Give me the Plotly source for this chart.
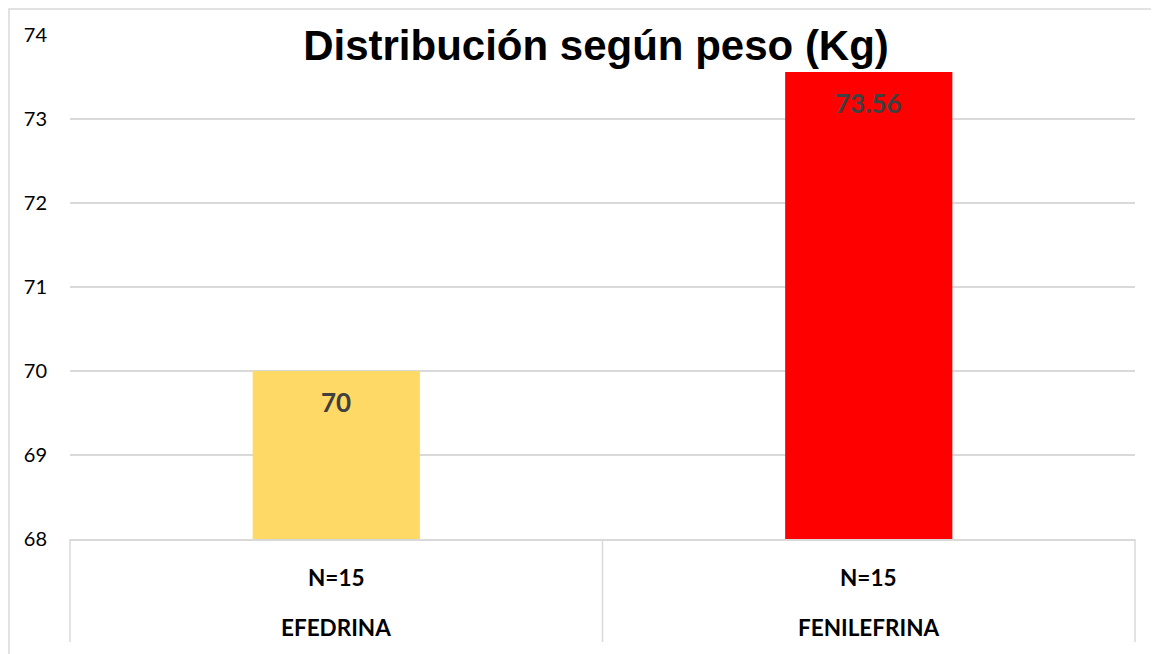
import plotly.graph_objects as go

categories = ["EFEDRINA", "FENILEFRINA"]
group_sizes = ["N=15", "N=15"]
peso_medio = [70, 73.56]
value_labels = ["70", "73.56"]
bar_colors = ["#FFD966", "#FF0000"]
y_ticks = [68, 69, 70, 71, 72, 73, 74]
y_floor = 68

W, H = 1159, 654
M_L, M_R, M_T, M_B = 62, 32, 27, 123
plot_w = W - M_L - M_R
plot_h = H - M_T - M_B

fig = go.Figure()

fig.add_trace(
    go.Bar(
        x=categories,
        y=[v - y_floor for v in peso_medio],
        base=y_floor,
        width=0.314,
        marker={"color": bar_colors, "line": {"width": 0}},
        hoverinfo="skip",
    )
)

# data labels near the top of each bar
for cat, val, txt in zip(categories, peso_medio, value_labels):
    fig.add_annotation(
        x=cat, y=val, xref="x", yref="y",
        text=f"<b>{txt}</b>", showarrow=False,
        yanchor="middle", yshift=-31,
        font={"family": "Lato, Open Sans, sans-serif", "size": 26, "color": "#404040"},
    )

# two-level category labels
label_font = {"family": "Lato, Open Sans, sans-serif", "size": 22.5, "color": "#000000"}
for cat, n in zip(categories, group_sizes):
    fig.add_annotation(
        x=cat, y=-38 / plot_h, xref="x", yref="paper",
        text=f"<b>{n}</b>", showarrow=False, yanchor="middle", font=label_font,
    )
    fig.add_annotation(
        x=cat, y=-88 / plot_h, xref="x", yref="paper",
        text=f"<b>{cat}</b>", showarrow=False, yanchor="middle", font=label_font,
    )

# table lines below the axis
line_style = {"color": "#D9D9D9", "width": 1.5}
for xp in [0, 0.5, 1]:
    fig.add_shape(
        type="line", xref="paper", yref="paper",
        x0=xp, x1=xp, y0=0, y1=-103 / plot_h, line=line_style,
    )

# outer chart border (left and top edges visible)
fig.add_shape(
    type="rect", xref="paper", yref="paper",
    x0=(1 - M_L) / plot_w, x1=(W - M_L + 10) / plot_w,
    y0=-(M_B + 10) / plot_h, y1=(plot_h + M_T - 1) / plot_h,
    line={"color": "#D9D9D9", "width": 1.5}, layer="below",
)

fig.update_layout(
    width=W,
    height=H,
    plot_bgcolor="white",
    paper_bgcolor="white",
    showlegend=False,
    margin={"l": M_L, "r": M_R, "t": M_T, "b": M_B},
    title={
        "text": "<b>Distribución según peso (Kg)</b>",
        "x": 588 / W,
        "xanchor": "center",
        "y": 1 - 37 / H,
        "yanchor": "middle",
        "yref": "container",
        "font": {"family": "Liberation Sans, Arial, sans-serif", "size": 42, "color": "#000000"},
    },
)

fig.update_xaxes(
    showticklabels=False,
    showgrid=False,
    showline=True,
    linecolor="#D9D9D9",
    linewidth=1.5,
    range=[-0.5, 1.5],
)

fig.update_yaxes(
    range=[68, 74],
    tickmode="array",
    tickvals=y_ticks,
    showgrid=True,
    gridcolor="#D9D9D9",
    gridwidth=1.5,
    zeroline=False,
    ticks="",
    ticklabelstandoff=22,
    tickfont={"family": "Lato, Open Sans, sans-serif", "size": 20, "color": "#000000"},
)

fig.write_html("out.html")
